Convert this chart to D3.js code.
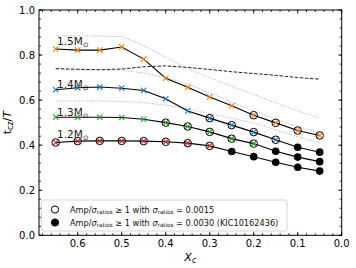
<!DOCTYPE html>
<html><head><meta charset="utf-8">
<script src="https://cdn.jsdelivr.net/npm/d3@7"></script>
<style>body{margin:0;background:#fff}svg{display:block}text{font-family:"DejaVu Sans",sans-serif}</style>
</head><body><svg id="c" width="356" height="268"></svg>
<script>
const xc = [0.65,0.6,0.55,0.5,0.45,0.4,0.35,0.3,0.25,0.2,0.15,0.1,0.05];
const m15 = [0.827,0.822,0.822,0.836,0.782,0.697,0.657,0.614,0.575,0.533,0.499,0.465,0.443];
const m14 = [0.646,0.655,0.658,0.653,0.643,0.606,0.552,0.520,0.489,0.458,0.424,0.391,0.369];
const m13 = [0.524,0.524,0.524,0.523,0.515,0.500,0.483,0.459,0.429,0.407,0.373,0.347,0.327];
const m12 = [0.412,0.418,0.419,0.419,0.418,0.415,0.409,0.397,0.372,0.349,0.324,0.302,0.285];
// marker type per point: x = cross, o = open circle + cross, f = filled black
const k15 = "xxxxxxxxxoooo";
const k14 = "xxxxxxxooooff";
const k13 = "xxxxxooooofff";
const k12 = "oooooooofffff";
const dashRef = [0.740,0.737,0.735,0.738,0.748,0.752,0.745,0.736,0.726,0.718,0.710,0.700,0.693];
const dot1 = [0.885,0.885,0.884,0.882,0.842,0.790,0.740,0.700,0.662,0.625,0.588,0.552,0.520];
const dot2 = [0.735,0.734,0.733,0.733,0.720,0.700,0.672,0.632,0.592,0.552,0.515,0.482,0.455];
const dot3 = [0.596,0.596,0.596,0.594,0.589,0.578,0.560,0.540,0.520,0.498,0.468,0.438,0.410];
const massLabels = ["1.5","1.4","1.3","1.2"];
const labelY = [0.845,0.655,0.53,0.43];
const colors = ["#ff7f0e","#1f77b4","#2ca02c","#d62728"];
const xTicks = [0.6,0.5,0.4,0.3,0.2,0.1,0.0];
const yTicks = [0.0,0.2,0.4,0.6,0.8,1.0];
const legendLabels = ["0.0015","0.0030 (KIC10162436)"];

const svg = d3.select("#c");
const L=39, R=341.7, T=10, B=235.3;
const x = d3.scaleLinear().domain([0.688,0]).range([L,R]);
const y = d3.scaleLinear().domain([0,1]).range([B,T]);

const line = d3.line().x((d,i)=>x(xc[i])).y(d=>y(d));
[dot1,dot2,dot3].forEach(s=>{
  svg.append("path").attr("d",line(s)).attr("fill","none").attr("stroke","#aaa").attr("stroke-width",1).attr("stroke-dasharray","1,1.6");
});
svg.append("path").attr("d",line(dashRef)).attr("fill","none").attr("stroke","#222").attr("stroke-width",1).attr("stroke-dasharray","3.5,1.6");

const series=[m15,m14,m13,m12], kinds=[k15,k14,k13,k12];
series.forEach((s,si)=>{
  svg.append("path").attr("d",line(s)).attr("fill","none").attr("stroke","#000").attr("stroke-width",1.1);
});
function cross(g,cx,cy,col,r){
  g.append("path").attr("d",`M${cx-r},${cy-r}L${cx+r},${cy+r}M${cx-r},${cy+r}L${cx+r},${cy-r}`).attr("stroke",col).attr("stroke-width",1.1);
}
series.forEach((s,si)=>{
  const g=svg.append("g");
  s.forEach((v,i)=>{
    const cx=x(xc[i]), cy=y(v), k=kinds[si][i];
    if(k==="f"){ g.append("circle").attr("cx",cx).attr("cy",cy).attr("r",3.8).attr("fill","#000"); }
    else if(k==="o"){ g.append("circle").attr("cx",cx).attr("cy",cy).attr("r",3.8).attr("fill","none").attr("stroke","#000").attr("stroke-width",1); cross(g,cx,cy,colors[si],2.4); }
    else cross(g,cx,cy,colors[si],2.7);
  });
});

massLabels.forEach((m,i)=>{
  const t=svg.append("text").attr("x",57).attr("y",y(labelY[i])).attr("font-size",10.5).attr("fill","#222");
  t.append("tspan").text(m+"M");
  t.append("tspan").attr("font-size",7).attr("dy",2).text("\u2299");
});

svg.append("rect").attr("x",L).attr("y",T).attr("width",R-L).attr("height",B-T).attr("fill","none").attr("stroke","#000").attr("stroke-width",1);
const xMinor=d3.range(0,0.69,0.02), yMinor=d3.range(0,1.001,0.04);
const tg=svg.append("g").attr("stroke","#000").attr("stroke-width",0.8);
xMinor.forEach(v=>{const p=x(v);tg.append("line").attr("x1",p).attr("x2",p).attr("y1",B).attr("y2",B-2);tg.append("line").attr("x1",p).attr("x2",p).attr("y1",T).attr("y2",T+2);});
yMinor.forEach(v=>{const p=y(v);tg.append("line").attr("y1",p).attr("y2",p).attr("x1",L).attr("x2",L+2);tg.append("line").attr("y1",p).attr("y2",p).attr("x1",R).attr("x2",R-2);});
xTicks.forEach(v=>{const p=x(v);tg.append("line").attr("x1",p).attr("x2",p).attr("y1",B).attr("y2",B-3.5);tg.append("line").attr("x1",p).attr("x2",p).attr("y1",T).attr("y2",T+3.5);
  svg.append("text").attr("x",p).attr("y",B+12).attr("text-anchor","middle").attr("font-size",10).text(d3.format(".1f")(v));});
yTicks.forEach(v=>{const p=y(v);tg.append("line").attr("y1",p).attr("y2",p).attr("x1",L).attr("x2",L+3.5);tg.append("line").attr("y1",p).attr("y2",p).attr("x1",R).attr("x2",R-3.5);
  svg.append("text").attr("x",L-4).attr("y",p+3.6).attr("text-anchor","end").attr("font-size",10).text(d3.format(".1f")(v));});

const xl=svg.append("text").attr("x",(L+R)/2).attr("y",261).attr("text-anchor","middle").attr("font-size",11).attr("font-style","italic");
xl.append("tspan").text("X");xl.append("tspan").attr("font-size",8).attr("dy",2).text("c");
const yl=svg.append("text").attr("transform",`translate(11,${(T+B)/2}) rotate(-90)`).attr("text-anchor","middle").attr("font-size",11);
yl.append("tspan").text("t");yl.append("tspan").attr("font-size",8).attr("dy",2).text("cz");yl.append("tspan").attr("dy",-2).text("/");yl.append("tspan").attr("font-style","italic").text("T");

const lg=svg.append("g");
lg.append("rect").attr("x",41.5).attr("y",200).attr("width",245.5).attr("height",31).attr("rx",2).attr("fill","#fff").attr("fill-opacity",0.8).attr("stroke","#ccc").attr("stroke-width",0.8);
legendLabels.forEach((lab,i)=>{
  const cy=209.5+i*13;
  lg.append("circle").attr("cx",55).attr("cy",cy).attr("r",3.6).attr("fill",i? "#000":"#fff").attr("stroke","#000").attr("stroke-width",1);
  const t=lg.append("text").attr("x",70).attr("y",cy+3).attr("font-size",8.2).attr("fill","#111");
  t.append("tspan").text("Amp/");
  t.append("tspan").attr("font-style","italic").text("\u03c3");
  t.append("tspan").attr("font-size",5.6).attr("dy",1.5).text("ratios");
  t.append("tspan").attr("dy",-1.5).text(" \u2265 1 with ");
  t.append("tspan").attr("font-style","italic").text("\u03c3");
  t.append("tspan").attr("font-size",5.6).attr("dy",1.5).text("ratios");
  t.append("tspan").attr("dy",-1.5).text(" = "+lab);
});
</script></body></html>
